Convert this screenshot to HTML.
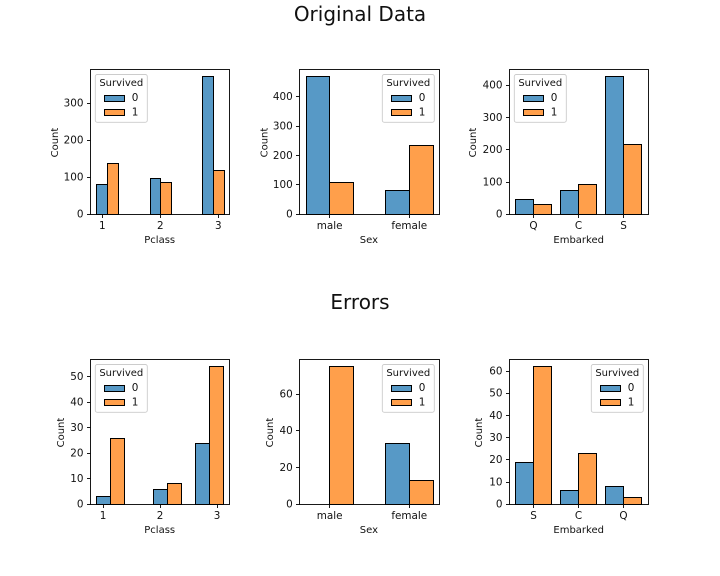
<!DOCTYPE html>
<html>
<head>
<meta charset="utf-8">
<title>Original Data and Errors</title>
<style>
html,body{margin:0;padding:0;background:#fff;}
svg{display:block;}
text{font-family:"DejaVu Sans","Liberation Sans",sans-serif;fill:#111;}
</style>
</head>
<body>
<svg id="fig" width="720" height="576" viewBox="0 0 720 576" xmlns="http://www.w3.org/2000/svg">
<rect x="0" y="0" width="720" height="576" fill="#fff"/>
<text x="360" y="21" font-size="20" text-anchor="middle">Original Data</text>
<text x="360" y="309" font-size="20" text-anchor="middle">Errors</text>
</svg>
<script>
// Category labels
const pclassLabels = ['1', '2', '3'];
const sexLabels = ['male', 'female'];
const embarkedOriginalLabels = ['Q', 'C', 'S'];
const embarkedErrorLabels = ['S', 'C', 'Q'];

// Original data counts
const origPclass0 = [80, 97, 372];
const origPclass1 = [136, 87, 119];
const origSex0 = [468, 81];
const origSex1 = [109, 233];
const origEmbarked0 = [47, 75, 427];
const origEmbarked1 = [30, 93, 217];

// Error counts
const errPclass0 = [3, 6, 24];
const errPclass1 = [26, 8, 54];
const errSex0 = [0, 33];
const errSex1 = [75, 13];
const errEmbarked0 = [19, 6, 8];
const errEmbarked1 = [62, 23, 3];

// Y tick labels
const origPclassTicks = [0, 100, 200, 300];
const origSexTicks = [0, 100, 200, 300, 400];
const origEmbarkedTicks = [0, 100, 200, 300, 400];
const errPclassTicks = [0, 10, 20, 30, 40, 50];
const errSexTicks = [0, 20, 40, 60];
const errEmbarkedTicks = [0, 10, 20, 30, 40, 50, 60];

const SVGNS = 'http://www.w3.org/2000/svg';
const fig = document.getElementById('fig');
const BLUE = '#5799c6';
const ORANGE = '#ff9f4b';

function make(tag, attrs, text) {
  const n = document.createElementNS(SVGNS, tag);
  for (const k in attrs) n.setAttribute(k, attrs[k]);
  if (text !== undefined) n.textContent = text;
  fig.appendChild(n);
  return n;
}
function snap(v) { return Math.round(v) + 0.5; }

function drawPanel(p) {
  const yMax = Math.max(...p.s0, ...p.s1) * 1.05;
  const top = p.top, bottom = p.top + 144.5;
  const left = p.left, right = p.left + 139.4;
  const xScale = v => p.x0 + (v - p.d0) * p.unit;
  const yScale = v => bottom - (v / yMax) * (bottom - top);

  // bars
  p.labels.forEach((lab, i) => {
    const c = p.centers ? p.centers[i] : i;
    [[p.s0, BLUE, 0], [p.s1, ORANGE, 1]].forEach(([vals, color, hue]) => {
      const v = vals[i];
      const x1 = snap(xScale(c + (hue - 1) * p.w));
      const x2 = snap(xScale(c + hue * p.w));
      const y1 = snap(yScale(v));
      const y2 = snap(bottom);
      if (v <= 0) return;
      const bar = make('rect', {x: x1, y: y1, width: x2 - x1, height: y2 - y1, fill: color, stroke: '#000', 'stroke-width': 1});
      
      
    });
  });

  // frame
  const frame = make('rect', {x: snap(left), y: snap(top), width: snap(right) - snap(left), height: snap(bottom) - snap(top), fill: 'none', stroke: '#000', 'stroke-width': 0.9});
  
  

  // x ticks
  p.labels.forEach((lab, i) => {
    const v = p.tickAt[i];
    const tx = snap(xScale(v));
    const tick = make('line', {x1: tx, x2: tx, y1: snap(bottom), y2: snap(bottom) + 3.5, stroke: '#000', 'stroke-width': 0.9});
    
    
    const label = make('text', {x: xScale(v) + 0.3, y: bottom + 15.2, 'font-size': 10.4, 'text-anchor': 'middle'}, lab);
    
    
  });

  // y ticks
  p.yTicks.forEach(v => {
    const ty = snap(yScale(v));
    const tick = make('line', {x1: snap(left) - 3.5, x2: snap(left), y1: ty, y2: ty, stroke: '#000', 'stroke-width': 0.9});
    
    
    const label = make('text', {x: left - 6.5, y: yScale(v) + 3.8, 'font-size': 10.4, 'text-anchor': 'end'}, String(v));
    
    
  });

  // axis titles
  const xt = make('text', {x: (left + right) / 2, y: bottom + 29.3, 'font-size': 10, 'text-anchor': 'middle'}, p.xTitle);
  
  
  const yt = make('text', {x: 0, y: 0, 'font-size': 10, 'text-anchor': 'middle', transform: 'translate(' + p.yTitleX + ',' + ((top + bottom) / 2 + 1) + ') rotate(-90)'}, 'Count');
  
  

  // legend
  const lx = p.legendX, ly = top + 5.2;
  const box = make('rect', {x: lx, y: ly, width: 52, height: 47.8, rx: 2, fill: '#fff', 'fill-opacity': 0.8, stroke: '#ccc', 'stroke-width': 0.9});
  
  
  const lt = make('text', {x: lx + 26, y: ly + 11.7, 'font-size': 10, 'text-anchor': 'middle'}, 'Survived');
  
  
  [[BLUE, '0', 20.3], [ORANGE, '1', 34.7]].forEach(([color, name, dy]) => {
    const sw = make('rect', {x: snap(lx + 9), y: snap(ly + dy), width: 20, height: 6, fill: color, stroke: '#000', 'stroke-width': 1});
    
    
    const tx = make('text', {x: lx + 36.5, y: ly + dy + 6.4, 'font-size': 10.4}, name);
    
    
  });
}

const panels = [
  {key: 'orig-pclass', labels: pclassLabels, s0: origPclass0, s1: origPclass1, yTicks: origPclassTicks, xTitle: 'Pclass',
   left: 90, top: 69.3, x0: 102, d0: 1, unit: 58, w: 0.185, centers: [1.09, 2.005, 2.915], tickAt: [1, 2, 3], legendX: 95.3, yTitleX: 58},
  {key: 'orig-sex', labels: sexLabels, s0: origSex0, s1: origSex1, yTicks: origSexTicks, xTitle: 'Sex',
   left: 299.2, top: 69.3, x0: 329.3, d0: 0, unit: 79.7, w: 0.295, tickAt: [0, 1], legendX: 382.3, yTitleX: 267.5},
  {key: 'orig-embarked', labels: embarkedOriginalLabels, s0: origEmbarked0, s1: origEmbarked1, yTicks: origEmbarkedTicks, xTitle: 'Embarked',
   left: 509, top: 69.3, x0: 533.2, d0: 0, unit: 45, w: 0.4, tickAt: [0, 1, 2], legendX: 514.3, yTitleX: 476},
  {key: 'err-pclass', labels: pclassLabels, s0: errPclass0, s1: errPclass1, yTicks: errPclassTicks, xTitle: 'Pclass',
   left: 90, top: 359.3, x0: 102.7, d0: 1, unit: 57, w: 0.246, centers: [1.133, 2.12, 2.867], tickAt: [1, 2, 3], legendX: 95.3, yTitleX: 64},
  {key: 'err-sex', labels: sexLabels, s0: errSex0, s1: errSex1, yTicks: errSexTicks, xTitle: 'Sex',
   left: 299.2, top: 359.3, x0: 329.3, d0: 0, unit: 79.7, w: 0.295, tickAt: [0, 1], legendX: 382.3, yTitleX: 273},
  {key: 'err-embarked', labels: embarkedErrorLabels, s0: errEmbarked0, s1: errEmbarked1, yTicks: errEmbarkedTicks, xTitle: 'Embarked',
   left: 509, top: 359.3, x0: 533.2, d0: 0, unit: 45, w: 0.4, tickAt: [0, 1, 2], legendX: 591.3, yTitleX: 482}
];
panels.forEach(drawPanel);
</script>
</body>
</html>
